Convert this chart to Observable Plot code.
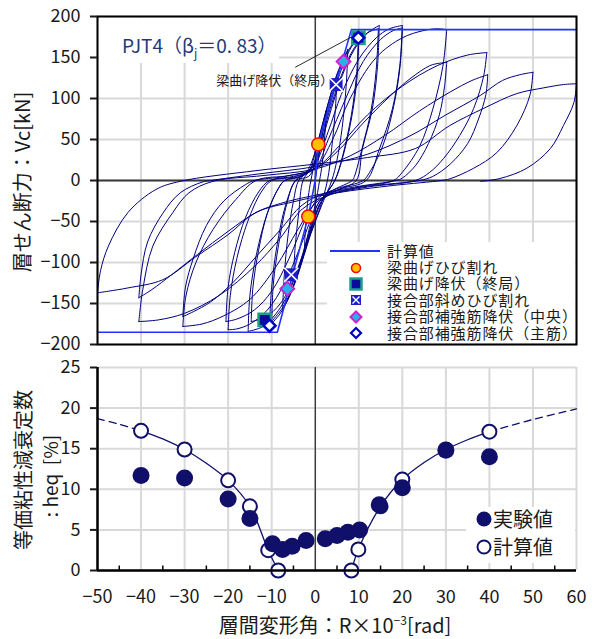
<!DOCTYPE html>
<html><head><meta charset="utf-8">
<script src="https://cdn.jsdelivr.net/npm/d3@7"></script>
<script src="https://cdn.jsdelivr.net/npm/@observablehq/plot@0.6"></script>
<style>
body{margin:0;background:#fff;font-family:"Noto Sans CJK JP","Noto Sans",sans-serif;color:#1a1a1a;}
#wrap{position:relative;width:595px;height:639px;overflow:hidden;}
.abs{position:absolute;white-space:nowrap;}
.rot{transform:rotate(-90deg);text-align:center;}
</style></head><body><div id="wrap"></div>
<script>
// ---------- tick values ----------
const xTicks = [-50,-40,-30,-20,-10,0,10,20,30,40,50,60];
const xMinor = [-45,-35,-25,-15,-5,5,15,25,35,45,55];
const vTicks = [-200,-150,-100,-50,0,50,100,150,200];
const hTicks = [0,5,10,15,20,25];

// ---------- hysteresis branches (peak to peak), [R(x10^-3 rad), Vc(kN)] ----------
const hystBranches = [
 [[0,0],[1,35],[2.5,85]],
 [[2.5,85],[2.2,55],[1.6,20],[1.0,0],[0,-30],[-1.2,-55],[-2.5,-85]],
 [[-2.5,-85],[-2.2,-55],[-1.6,-20],[-1,0],[0,25],[2.5,80],[5,125]],
 [[5,125],[4.6,85],[3.8,40],[2.8,0],[1,-35],[-1.5,-70],[-3.5,-100],[-5,-120]],
 [[-5,-120],[-4.6,-80],[-3.8,-40],[-2.8,0],[-1,15],[0,35],[2.5,85],[5,130],[7.5,160]],
 [[7.5,160],[7.1,115],[6.2,65],[5,25],[3.8,0],[1.5,-30],[-1,-65],[-3.5,-105],[-6,-142],[-7.5,-158]],
 [[-7.5,-158],[-7.1,-115],[-6.2,-65],[-5,-25],[-3.8,0],[-1.5,12],[0,25],[2.5,75],[5,120],[7.5,155],[9.9,176]],
 [[9.9,176],[9.5,130],[8.3,80],[6.3,30],[4.5,0],[1.5,-25],[0,-45],[-2.5,-90],[-5,-130],[-8,-162],[-10.5,-177]],
 [[-10.5,-177],[-10,-130],[-8.8,-80],[-6.8,-30],[-4.5,0],[-2,10],[0,35],[2.5,85],[5,128],[7.5,158],[10,175]],
 [[10,175],[9.6,125],[8.3,75],[6.3,28],[4.5,0],[2,-20],[0,-42],[-2.5,-88],[-5,-128],[-7.5,-155],[-10,-172]],
 [[-10,-172],[-9.6,-125],[-8.4,-78],[-6.5,-28],[-4.5,0],[-1.5,5],[0,20],[3,75],[6,125],[9,160],[12,180],[14.7,189]],
 [[14.7,189],[14.3,139],[13.1,87],[10.8,38],[9.4,0],[5,-12],[1.5,-25],[-1,-60],[-4,-110],[-8,-155],[-12,-178],[-15.4,-184]],
 [[-15.4,-184],[-15,-140],[-13.5,-90],[-11,-40],[-8.5,-10],[-7,0],[-3,6],[0,22],[3,80],[6,128],[9,162],[12,180],[14.5,185]],
 [[14.5,185],[14,135],[12.8,85],[10.8,40],[9,5],[8.5,0],[4,-12],[1,-25],[-1.5,-65],[-4.5,-115],[-8,-150],[-11.5,-167],[-14.7,-172]],
 [[-14.7,-172],[-14.3,-130],[-13,-85],[-11,-40],[-8.5,-10],[-7,0],[-3,5],[0,20],[3,60],[6,105],[10,148],[14,174],[17,185],[20,189]],
 [[20,189],[19.4,139],[17.7,87],[14.7,38],[11.7,0],[6,-10],[2,-20],[0,-35],[-3,-75],[-7,-125],[-11,-158],[-15,-175],[-18,-181],[-20,-182]],
 [[-20,-182],[-19.5,-140],[-18,-95],[-15.5,-50],[-12.5,-15],[-10,0],[-5,4],[0,15],[3,50],[7,100],[11,145],[15,172],[18,183],[20,186]],
 [[20,186],[19.5,140],[18,90],[15.5,42],[12.5,10],[11,0],[5,-10],[1,-20],[-2,-45],[-6,-95],[-10,-135],[-14,-158],[-18,-169],[-20.5,-172]],
 [[-20.5,-172],[-20,-130],[-18.5,-88],[-16,-45],[-13,-14],[-10.5,0],[-5,5],[0,15],[4,50],[8,100],[14,150],[20,174],[25,183],[28,185],[30.2,184]],
 [[30.2,184],[29.3,139],[27,87],[24,42],[20,10],[18,0],[10,-8],[3,-18],[0,-28],[-4,-60],[-9,-105],[-15,-145],[-21,-165],[-26,-175],[-30.4,-178]],
 [[-30.4,-178],[-29.7,-141],[-27.4,-100],[-23.5,-60],[-18.2,-23],[-13.6,0],[-6,6],[0,14],[5,35],[11,70],[17,102],[22,125],[26.3,140],[28.5,143],[30.2,144]],
 [[30.2,144],[29.7,115],[28.5,80],[26,45],[23,18],[20,3],[18.5,0],[9,-8],[2,-16],[-3,-30],[-8,-60],[-13.6,-93],[-19,-125],[-24,-148],[-28,-160],[-30.4,-166]],
 [[-30.4,-166],[-29.8,-130],[-28,-95],[-25,-55],[-21,-25],[-16,-5],[-14,0],[-7,5],[0,15],[6,45],[12,80],[20,115],[28,140],[35,153],[39.4,156]],
 [[39.4,156],[38.7,128],[36.4,88],[33.2,55],[29.5,27],[26.3,10],[23,0],[12,-8],[3,-18],[-3,-35],[-8,-70],[-14,-105],[-22,-140],[-30,-162],[-36,-170],[-40.5,-172]],
 [[-40.5,-172],[-39.6,-133],[-37.3,-80],[-32.7,-39],[-29,-15],[-23.5,-1],[-12,6],[0,14],[8,30],[16,55],[24,85],[31,108],[36,122],[39.6,129]],
 [[39.6,129],[39.2,105],[37.5,75],[35,45],[31,20],[27,5],[24,0],[12,-7],[0,-18],[-8,-28],[-13.6,-39],[-20,-62],[-27,-90],[-33,-115],[-37.5,-133],[-40.5,-143]],
 [[-40.5,-143],[-40,-115],[-38.5,-75],[-35,-40],[-31,-15],[-26,-2],[-24,0],[-13,8],[0,17],[12,32],[22,55],[30,80],[38,104],[43,122],[47,129],[50,132]],
 [[50,132],[49.3,104],[46.3,67],[41.7,34],[36.4,15],[30.9,2],[29,0],[18,-6],[5,-15],[-5,-26],[-13.6,-39],[-20,-66],[-27.4,-93],[-35,-121],[-43,-131],[-47.5,-135],[-50,-137]],
 [[-50,-137],[-49.3,-110],[-47.5,-80],[-43,-39],[-36.6,-11],[-31,-1],[-13.6,12],[0,20],[12,28],[23,39],[30.9,67],[38.7,88],[46.3,106],[52.5,113],[57,117],[60,118]],
 [[60,118],[59.4,95],[57,67],[54,39],[48.6,15],[42.4,2.4],[38,-1]]
];

// ---------- calculated skeleton (計算値) ----------
const calcSkeleton = [[-50,-185],[-8.7,-185],[-1.6,-44],[0,0],[0.7,44],[8.3,184],[60,184]];

// ---------- event markers ----------
const crackPts      = [[0.7,44],[-1.6,-44]];          // 梁曲げひび割れ
const beamYieldPts  = [[9.9,174],[-11.6,-170]];       // 梁曲げ降伏(終局)
const jointCrackPts = [[4.8,117],[-5.5,-115]];        // 接合部斜めひび割れ
const rebarMidPts   = [[6.5,145],[-6.4,-132]];        // 接合部補強筋降伏(中央)
const rebarMainPts  = [[9.9,174],[-10.5,-177]];       // 接合部補強筋降伏(主筋)

const annoLine = [{x1:-4.6,y1:138,x2:8.3,y2:175}];
const annoText = [{x:-9.3,y:122,t:"梁曲げ降伏（終局）"}];

// ---------- equivalent damping ----------
const expPts  = [[-40,11.7],[-30,11.4],[-20,8.8],[-15,6.4],[-9.8,3.3],[-7.5,2.6],[-5.3,3.0],[-2.1,3.7],
                 [2.3,3.9],[5,4.3],[7.5,4.7],[10.2,5.0],[14.7,8.1],[20,10.2],[30,14.8],[40,14.0]];
const calcPts = [[-40,17.2],[-30,14.9],[-20,11.1],[-15,7.9],[-10.8,2.5],[-8.5,0],
                 [8.3,0],[9.9,2.6],[15,7.9],[20,11.2],[30,14.9],[40,17.1]];
const calcCurveNeg = [[-40,17.2],[-35,16.2],[-30,14.9],[-25,13.2],[-20,11.1],[-15,7.9],[-10.8,2.5],[-8.5,0]];
const calcCurvePos = [[8.3,0],[9.9,2.6],[15,7.9],[20,11.2],[25,13.3],[30,14.9],[35,16.1],[40,17.1]];
const dashNeg = [[-50,18.7],[-45,18.0],[-40,17.2]];
const dashPos = [[40,17.1],[50,18.6],[60,19.9]];

// ---------- build ----------
const F = '"Noto Sans CJK JP","Noto Sans",sans-serif';
const navy = "#000080", navy2 = "#10106a", grid = "#d9d9d9";
const X = d=>d[0], Y = d=>d[1];
const hystRows = hystBranches.flatMap((b,i)=>b.map(([R,V])=>({R,V,b:i})));

const topChart = Plot.plot({
  width:595, height:350, marginTop:16, marginBottom:6, marginLeft:97, marginRight:19,
  style:{fontFamily:F, color:"#1a1a1a", background:"#fff", overflow:"visible"},
  x:{domain:[-50,60], axis:null},
  y:{domain:[-200,200]},
  marks:[
    Plot.ruleX(xTicks,{stroke:grid,strokeWidth:2}),
    Plot.ruleY(vTicks,{stroke:grid,strokeWidth:2}),
    Plot.ruleY([0],{stroke:"#3a3a3a",strokeWidth:2}),
    Plot.ruleX([0],{stroke:"#000",strokeWidth:1}),
    Plot.line(hystRows,{x:"R",y:"V",z:"b",stroke:navy,strokeWidth:1,curve:"catmull-rom"}),
    Plot.line(calcSkeleton,{x:X,y:Y,stroke:"#2233ff",strokeWidth:1.6}),
    Plot.link(annoLine,{x1:"x1",y1:"y1",x2:"x2",y2:"y2",stroke:"#111",strokeWidth:0.9}),
    Plot.text(annoText,{x:"x",y:"y",text:"t",fontSize:13,fill:"#1a1a1a"}),
    Plot.dot(crackPts,{x:X,y:Y,r:6.5,fill:"#ffc000",stroke:"#ff0000",strokeWidth:1.5}),
    Plot.dot(jointCrackPts,{x:X,y:Y,symbol:"square",r:7.3,fill:"#1c1cc8"}),
    Plot.dot(jointCrackPts,{x:X,y:Y,symbol:"times",r:6.5,stroke:"#fff",strokeWidth:1.6}),
    Plot.dot(rebarMidPts,{x:X,y:Y,symbol:"diamond2",r:6.2,fill:"#22b4e6",stroke:"#d020d0",strokeWidth:2}),
    Plot.dot(beamYieldPts,{x:X,y:Y,symbol:"square",r:7,fill:"#0a0aa0",stroke:"#1aa08a",strokeWidth:2.5}),
    Plot.dot(rebarMainPts,{x:X,y:Y,symbol:"diamond2",r:5.4,fill:"#fff",stroke:"#0000c8",strokeWidth:2.5}),
    Plot.frame({stroke:"#000",strokeWidth:2}),
    Plot.axisY({ticks:vTicks,tickSize:7,tickPadding:10,fontSize:18,strokeWidth:2,label:null})
  ]
});

const botChart = Plot.plot({
  width:595, height:289, marginTop:17, marginBottom:69, marginLeft:97, marginRight:19,
  style:{fontFamily:F, color:"#1a1a1a", background:"#fff", overflow:"visible"},
  x:{domain:[-50,60]},
  y:{domain:[0,25]},
  marks:[
    Plot.ruleX(xTicks,{stroke:grid,strokeWidth:2}),
    Plot.ruleY(hTicks,{stroke:grid,strokeWidth:2}),
    Plot.ruleX([0],{stroke:"#000",strokeWidth:1}),
    Plot.line(calcCurveNeg,{x:X,y:Y,stroke:navy2,strokeWidth:1.3,curve:"catmull-rom"}),
    Plot.line(calcCurvePos,{x:X,y:Y,stroke:navy2,strokeWidth:1.3,curve:"catmull-rom"}),
    Plot.line(dashNeg,{x:X,y:Y,stroke:navy2,strokeWidth:1.3,strokeDasharray:"7,5",curve:"catmull-rom"}),
    Plot.line(dashPos,{x:X,y:Y,stroke:navy2,strokeWidth:1.3,strokeDasharray:"7,5",curve:"catmull-rom"}),
    Plot.dot(calcPts,{x:X,y:Y,r:7,fill:"#fff",stroke:navy2,strokeWidth:2}),
    Plot.dot(expPts,{x:X,y:Y,r:8.5,fill:navy2}),
    Plot.ruleX([-50],{stroke:"#000",strokeWidth:2.5}),
    Plot.ruleY([0],{stroke:"#000",strokeWidth:2.5}),
    Plot.ruleX(xMinor,{y1:0,y2:0.55,stroke:"#000",strokeWidth:1.5}),
    Plot.axisY({ticks:hTicks,tickSize:7,tickPadding:10,fontSize:18,strokeWidth:2,label:null}),
    Plot.axisX({ticks:xTicks,tickSize:0,tickPadding:20,fontSize:18,label:null})
  ]
});

const wrap = document.getElementById("wrap");
topChart.style.position="absolute"; topChart.style.left="0px"; topChart.style.top="0px";
botChart.style.position="absolute"; botChart.style.left="0px"; botChart.style.top="350px";
wrap.appendChild(topChart); wrap.appendChild(botChart);

// ---------- overlays: title, legends, axis titles ----------
const legTop = [
  {k:"line",t:"計算値"},
  {k:"crack",t:"梁曲げひび割れ"},
  {k:"byield",t:"梁曲げ降伏（終局）"},
  {k:"jcrack",t:"接合部斜めひび割れ"},
  {k:"rmid",t:"接合部補強筋降伏（中央）"},
  {k:"rmain",t:"接合部補強筋降伏（主筋）"}
];
const legTopY = [251,268,284,300,317,333];
const sym = {
  crack:'<circle cx="8" cy="8" r="4.5" fill="#ffc000" stroke="#ff0000" stroke-width="1.5"/>',
  byield:'<rect x="2.5" y="2.5" width="11" height="11" fill="#0a0aa0" stroke="#1aa08a" stroke-width="2.5"/>',
  jcrack:'<rect x="3" y="3" width="10" height="10" fill="#1c1cc8"/><path d="M4.5 4.5L11.5 11.5M11.5 4.5L4.5 11.5" stroke="#fff" stroke-width="1.4"/>',
  rmid:'<path d="M8 2.5L13.5 8L8 13.5L2.5 8Z" fill="#22b4e6" stroke="#d020d0" stroke-width="2"/>',
  rmain:'<path d="M8 3L13 8L8 13L3 8Z" fill="#fff" stroke="#0000c8" stroke-width="2.2"/>'
};
let html = '';
html += '<div class="abs" style="left:99px;top:18px;width:180px;height:45px;background:#fff"></div>';
html += '<div class="abs" style="left:122px;top:31px;font-size:19px;line-height:28px;color:#1f3a7a">PJT4（β<span style="font-size:12px;position:relative;top:5px">j</span>＝0. 83）</div>';
html += '<div class="abs" style="left:327px;top:242px;width:248px;height:101px;background:#fff"></div>';
legTop.forEach((d,i)=>{
  const yc = legTopY[i];
  if(d.k==="line") html += `<div class="abs" style="left:330px;top:${yc-1}px;width:50px;height:2px;background:#2233ff"></div>`;
  else html += `<svg class="abs" style="left:348px;top:${yc-8}px" width="16" height="16">${sym[d.k]}</svg>`;
});
html += `<div class="abs" style="left:387px;top:242.5px;font-size:15px;line-height:16.4px;letter-spacing:0.9px;color:#1a1a1a">${legTop.map(d=>d.t).join("<br>")}</div>`;
html += '<div class="abs" style="left:466px;top:507px;width:109px;height:56px;background:#fff"></div>';
html += `<svg class="abs" style="left:475px;top:510px" width="18" height="18"><circle cx="9" cy="9" r="7.5" fill="${navy2}"/></svg>`;
html += `<svg class="abs" style="left:475px;top:538px" width="18" height="18"><circle cx="9" cy="9" r="6.5" fill="#fff" stroke="${navy2}" stroke-width="2"/></svg>`;
html += '<div class="abs" style="left:493px;top:507px;height:24px;font-size:20px;line-height:24px">実験値</div>';
html += '<div class="abs" style="left:493px;top:535px;height:24px;font-size:20px;line-height:24px">計算値</div>';
html += '<div class="abs rot" style="left:-128px;top:170px;width:300px;height:24px;line-height:24px;font-size:20px">層せん断力：Vc[kN]</div>';
html += '<div class="abs rot" style="left:-127px;top:458px;width:300px;height:24px;line-height:24px;font-size:20px">等価粘性減衰定数</div>';
html += '<div class="abs rot" style="left:-100px;top:464px;width:300px;height:24px;line-height:24px;font-size:19px">: heq&nbsp;&nbsp;[%]</div>';
html += '<div class="abs" style="left:135px;top:613px;width:400px;height:24px;line-height:24px;font-size:20px;text-align:center">層間変形角：R×10<span style="font-size:12px;position:relative;top:-8px">−3</span>[rad]</div>';
const ov = document.createElement("div");
ov.innerHTML = html;
wrap.appendChild(ov);
</script>
</body></html>
